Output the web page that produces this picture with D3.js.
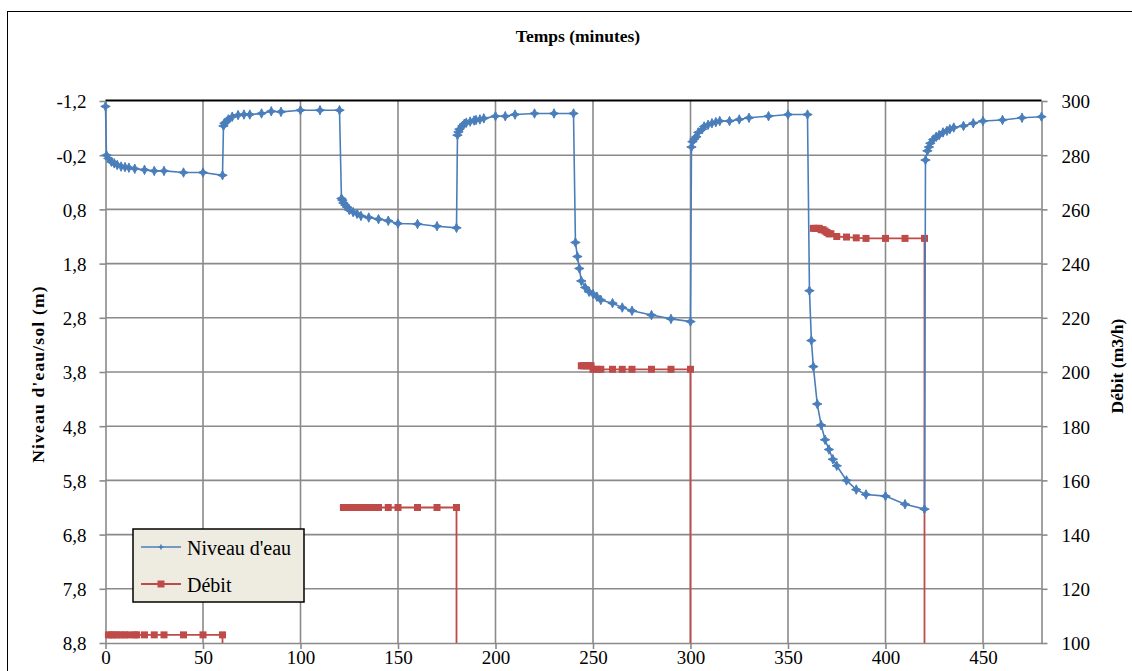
<!DOCTYPE html>
<html>
<head>
<meta charset="utf-8">
<script src="https://cdn.jsdelivr.net/npm/d3@7"></script>
<style>
  body { margin: 0; background: #fff; }
  text { font-family: "Liberation Serif", "Times New Roman", serif; }
</style>
</head>
<body>
<script>
// temps (minutes) et niveau d'eau (m)
const tempsNiveau = [
  0, 0.5, 1.5, 3, 4.5, 6, 8, 10, 12, 15, 20, 25, 30, 40, 50, 60,
  60.5, 61, 62, 63, 65, 68, 71, 74, 80, 85, 90, 100, 110, 120,
  121, 121.5, 122, 123, 124, 125, 127, 129, 131, 135, 140, 145, 150, 160, 170, 180,
  180.5, 181, 181.5, 183, 184, 185, 187, 189, 190, 192, 194, 200, 205, 210, 220, 230, 240,
  241, 242, 243, 244, 246, 248, 250, 252, 254, 260, 265, 270, 280, 290, 300,
  300.5, 301, 302, 303, 304, 306, 307, 309, 311, 313, 315, 320, 325, 330, 340, 350, 360,
  361, 362, 363, 365, 367, 369, 371, 373, 375, 380, 385, 390, 400, 410, 420,
  420.5, 421.5, 422.3, 423, 424.5, 426, 427.5, 429.5, 431.5, 433, 435, 440, 445, 450, 460, 470, 480
];
const niveau = [
  -1.1, -0.2, -0.14, -0.08, -0.05, -0.02, 0.01, 0.02, 0.03, 0.05, 0.07, 0.09, 0.09, 0.12, 0.12, 0.17,
  -0.74, -0.79, -0.82, -0.86, -0.91, -0.94, -0.95, -0.95, -0.97, -1.01, -1.0, -1.03, -1.03, -1.03,
  0.6, 0.63, 0.68, 0.72, 0.76, 0.81, 0.85, 0.88, 0.92, 0.95, 0.98, 1.01, 1.06, 1.07, 1.11, 1.14,
  -0.57, -0.63, -0.68, -0.74, -0.78, -0.8, -0.82, -0.84, -0.85, -0.86, -0.88, -0.92, -0.92, -0.95, -0.97, -0.97, -0.97,
  1.41, 1.67, 1.89, 2.12, 2.24, 2.32, 2.36, 2.41, 2.47, 2.53, 2.61, 2.67, 2.75, 2.82, 2.87,
  -0.35, -0.45, -0.5, -0.54, -0.62, -0.68, -0.73, -0.76, -0.79, -0.81, -0.83, -0.83, -0.86, -0.89, -0.92, -0.95, -0.95,
  2.3, 3.22, 3.7, 4.39, 4.78, 5.05, 5.23, 5.41, 5.53, 5.8, 5.97, 6.06, 6.09, 6.24, 6.33,
  -0.11, -0.28, -0.35, -0.42, -0.49, -0.54, -0.57, -0.62, -0.65, -0.68, -0.71, -0.74, -0.79, -0.83, -0.85, -0.89, -0.91
];

// temps (minutes) et débit (m3/h); null = pas de mesure (coupure de la ligne)
const tempsDebit = [
  1.5, 3, 4.5, 6, 8, 10, 12, 15, 16, 20, 25, 30, 40, 50, 60, 60, 61,
  122, 123, 124, 125, 127, 129, 131, 133, 135, 137, 140, 145, 150, 160, 170, 180, 180, 181,
  244, 245, 246, 247, 248, 249, 250, 252, 254, 260, 265, 270, 280, 290, 300, 300, 301,
  363, 364, 365, 366, 367, 368, 369, 370, 371, 372, 375, 380, 385, 390, 400, 410, 420, 420
];
const debit = [
  103, 103, 103, 103, 103, 103, 103, 103, 103, 103, 103, 103, 103, 103, 103, 0, null,
  150, 150, 150, 150, 150, 150, 150, 150, 150, 150, 150, 150, 150, 150, 150, 150, 0, null,
  202.3, 202.3, 202.3, 202.3, 202.3, 202.3, 201, 201, 201, 201, 201, 201, 201, 201, 201, 0, null,
  253, 253, 253, 253, 252.5, 252.5, 252, 251.5, 251, 251, 250, 249.8, 249.5, 249.3, 249.3, 249.3, 249.3, 0
];

// graduations
const ticksTemps = [0, 50, 100, 150, 200, 250, 300, 350, 400, 450];
const ticksNiveau = [-1.2, -0.2, 0.8, 1.8, 2.8, 3.8, 4.8, 5.8, 6.8, 7.8, 8.8];
const ticksDebit = [100, 120, 140, 160, 180, 200, 220, 240, 260, 280, 300];

const bleu = "#4a7ebb";
const rouge = "#be4b48";
const grille = "#8a8a8a";

const svg = d3.select("body")
  .append("svg")
  .attr("width", 1132)
  .attr("height", 671);

// cadre du graphique
svg.append("rect")
  .attr("x", 7.5).attr("y", 11.5)
  .attr("width", 1200).attr("height", 700)
  .attr("fill", "none").attr("stroke", "#000").attr("stroke-width", 1);

const gauche = 105.5, droite = 1041.5, haut = 101, bas = 643;

const x = d3.scaleLinear().domain([0, 480]).range([gauche, droite]);
const y = d3.scaleLinear().domain([-1.2, 8.8]).range([haut, bas]);
const y2 = d3.scaleLinear().domain([100, 300]).range([bas, haut]);

// virgule décimale et tiret simple comme dans Excel
const virgule = d => d3.format(".1f")(d).replace(".", ",").replace("\u2212", "-");

// grille
svg.append("g")
  .selectAll("line")
  .data(ticksTemps.slice(1))
  .join("line")
  .attr("x1", d => x(d)).attr("x2", d => x(d))
  .attr("y1", haut).attr("y2", bas)
  .attr("stroke", grille).attr("stroke-width", 1.6);

svg.append("g")
  .selectAll("line")
  .data(ticksNiveau.slice(1, -1))
  .join("line")
  .attr("x1", gauche).attr("x2", droite)
  .attr("y1", d => y(d)).attr("y2", d => y(d))
  .attr("stroke", grille).attr("stroke-width", 1.6);

// axes
const axeX = svg.append("g")
  .attr("transform", `translate(0,${bas})`)
  .call(d3.axisBottom(x).tickValues(ticksTemps).tickSize(6).tickSizeOuter(0));
const axeY = svg.append("g")
  .attr("transform", `translate(${gauche},0)`)
  .call(d3.axisLeft(y).tickValues(ticksNiveau).tickFormat(virgule).tickSize(6).tickSizeOuter(0));
const axeY2 = svg.append("g")
  .attr("transform", `translate(${droite},0)`)
  .call(d3.axisRight(y2).tickValues(ticksDebit).tickSize(6).tickSizeOuter(0));

[axeX, axeY, axeY2].forEach(a => {
  a.attr("font-family", "Liberation Serif");
  a.select(".domain").attr("stroke", grille).attr("stroke-width", 1.6);
  a.selectAll(".tick line").attr("stroke", grille).attr("stroke-width", 1.6);
  a.selectAll(".tick text")
    .attr("font-family", "Liberation Serif")
    .attr("font-size", 19)
    .attr("fill", "#000");
});
axeX.selectAll(".tick text").attr("y", 7).attr("dy", "0.72em");
axeY.selectAll(".tick text").attr("x", -19).attr("dy", "0.36em");
axeY2.selectAll(".tick text").attr("x", 20).attr("dy", "0.36em");

// bord supérieur noir
svg.append("line")
  .attr("x1", gauche).attr("x2", droite)
  .attr("y1", haut - 0.5).attr("y2", haut - 0.5)
  .attr("stroke", "#000").attr("stroke-width", 2);

// titres
svg.append("text")
  .attr("x", 578).attr("y", 42)
  .attr("text-anchor", "middle")
  .attr("font-weight", "bold").attr("font-size", 17.5)
  .text("Temps (minutes)");

svg.append("text")
  .attr("transform", "translate(44,374) rotate(-90)")
  .attr("text-anchor", "middle")
  .attr("font-weight", "bold").attr("font-size", 17.5)
  .attr("letter-spacing", 1.2)
  .text("Niveau d'eau/sol (m)");

svg.append("text")
  .attr("transform", "translate(1123,366) rotate(-90)")
  .attr("text-anchor", "middle")
  .attr("font-weight", "bold").attr("font-size", 17.5)
  .text("Débit (m3/h)");

// zone de tracé (coupée)
svg.append("clipPath").attr("id", "zone")
  .append("rect")
  .attr("x", gauche - 6).attr("y", haut - 6)
  .attr("width", droite - gauche + 12).attr("height", bas - haut + 6);

const trace = svg.append("g").attr("clip-path", "url(#zone)");

// marqueur étoile à 4 branches (losange Excel)
const etoile = {
  draw(ctx, size) {
    const r = Math.sqrt(size) * 0.75, c = r * 0.32;
    ctx.moveTo(0, -r); ctx.lineTo(c, -c); ctx.lineTo(r, 0); ctx.lineTo(c, c);
    ctx.lineTo(0, r); ctx.lineTo(-c, c); ctx.lineTo(-r, 0); ctx.lineTo(-c, -c);
    ctx.closePath();
  }
};

const ptsNiveau = tempsNiveau.map((t, i) => ({ t, v: niveau[i] }));
const ptsDebit = tempsDebit.map((t, i) => ({ t, v: debit[i] }));

trace.append("path")
  .datum(ptsDebit)
  .attr("fill", "none").attr("stroke", rouge).attr("stroke-width", 1.8)
  .attr("d", d3.line().defined(d => d.v !== null).x(d => x(d.t)).y(d => y2(d.v)));

trace.append("g")
  .selectAll("rect")
  .data(ptsDebit.filter(d => d.v !== null && d.v >= 100))
  .join("rect")
  .attr("x", d => x(d.t) - 3.5).attr("y", d => y2(d.v) - 3.5)
  .attr("width", 7).attr("height", 7)
  .attr("fill", rouge);

trace.append("path")
  .datum(ptsNiveau)
  .attr("fill", "none").attr("stroke", bleu).attr("stroke-width", 1.6)
  .attr("d", d3.line().x(d => x(d.t)).y(d => y(d.v)));

trace.append("g")
  .selectAll("path")
  .data(ptsNiveau)
  .join("path")
  .attr("transform", d => `translate(${x(d.t)},${y(d.v)})`)
  .attr("d", d3.symbol().type(etoile).size(40))
  .attr("fill", bleu).attr("stroke", bleu).attr("stroke-width", 1);

// légende
const leg = svg.append("g");
leg.append("rect")
  .attr("x", 133).attr("y", 529)
  .attr("width", 171).attr("height", 73)
  .attr("fill", "#eeece1").attr("stroke", "#000").attr("stroke-width", 1.5);

leg.append("line")
  .attr("x1", 141).attr("x2", 181).attr("y1", 547).attr("y2", 547)
  .attr("stroke", bleu).attr("stroke-width", 1.6);
leg.append("path")
  .attr("transform", "translate(161,547)")
  .attr("d", d3.symbol().type(etoile).size(20))
  .attr("fill", bleu);
leg.append("text")
  .attr("x", 187).attr("y", 555)
  .attr("font-size", 20)
  .text("Niveau d'eau");

leg.append("line")
  .attr("x1", 141).attr("x2", 181).attr("y1", 584).attr("y2", 584)
  .attr("stroke", rouge).attr("stroke-width", 1.8);
leg.append("rect")
  .attr("x", 157.5).attr("y", 580.5).attr("width", 7).attr("height", 7)
  .attr("fill", rouge);
leg.append("text")
  .attr("x", 187).attr("y", 592)
  .attr("font-size", 20)
  .text("Débit");
</script>
</body>
</html>
